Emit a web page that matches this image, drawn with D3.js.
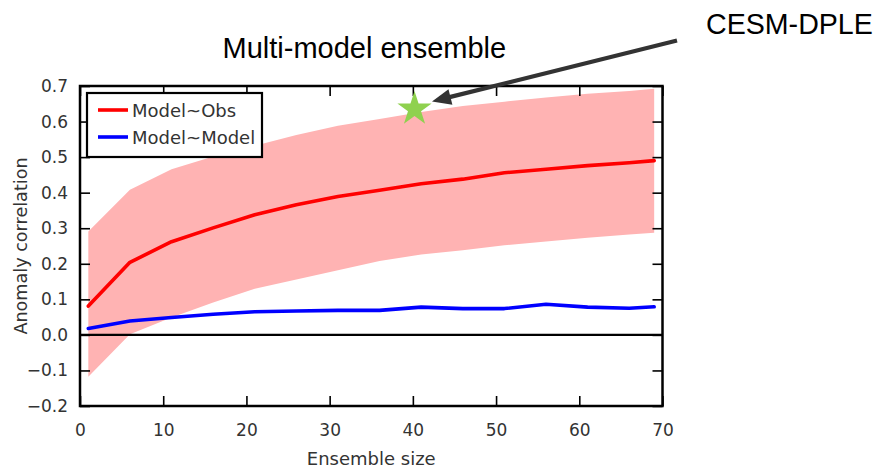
<!DOCTYPE html>
<html>
<head>
<meta charset="utf-8">
<script src="https://cdn.jsdelivr.net/npm/d3@7"></script>
<style>
  html, body { margin: 0; padding: 0; background: #fff; }
  svg { display: block; }
</style>
</head>
<body>
<svg id="chart" width="882" height="468"></svg>
<script>
// Ensemble sizes sampled along the x axis
const ensembleSizes = [1, 6, 11, 16, 21, 26, 31, 36, 41, 46, 51, 56, 61, 66, 69];
// Mean anomaly correlation, model vs observations
const modelObs = [0.081, 0.204, 0.262, 0.301, 0.338, 0.366, 0.389, 0.407, 0.425, 0.438, 0.456, 0.466, 0.476, 0.484, 0.490];
// Spread of the model-vs-observation correlation
const obsUpper = [0.291, 0.408, 0.466, 0.502, 0.532, 0.562, 0.588, 0.607, 0.627, 0.644, 0.656, 0.668, 0.678, 0.686, 0.692];
const obsLower = [-0.118, 0.002, 0.049, 0.091, 0.130, 0.156, 0.182, 0.208, 0.226, 0.238, 0.252, 0.263, 0.273, 0.282, 0.287];
// Mean anomaly correlation, model vs model
const modelModel = [0.018, 0.039, 0.049, 0.058, 0.065, 0.067, 0.069, 0.069, 0.078, 0.074, 0.074, 0.086, 0.078, 0.075, 0.079];
// CESM-DPLE point
const dpleSize = [40.2];
const dpleCorr = [0.635];
// Axis ticks
const xTicks = [0, 10, 20, 30, 40, 50, 60, 70];
const yTicks = [-0.2, -0.1, 0.0, 0.1, 0.2, 0.3, 0.4, 0.5, 0.6, 0.7];
const legendLabels = ["Model~Obs", "Model~Model"];

(function draw() {
  const svg = d3.select("#chart");
  const plotLeft = 80, plotRight = 662.5, plotTop = 86, plotBottom = 406;

  const x = d3.scaleLinear().domain([0, 70]).range([plotLeft, plotRight]);
  const y = d3.scaleLinear().domain([-0.2, 0.7]).range([plotBottom, plotTop]);

  const tickFont = "'DejaVu Sans', sans-serif";
  const textColor = "#333";

  const rows = ensembleSizes.map((s, i) => ({
    s, obs: modelObs[i], up: obsUpper[i], lo: obsLower[i], mm: modelModel[i]
  }));

  // Shaded spread band
  svg.append("path")
    .datum(rows)
    .attr("fill", "#ffb3b3")
    .attr("d", d3.area().x(d => x(d.s)).y0(d => y(d.lo)).y1(d => y(d.up)));

  // Zero reference line
  svg.append("line")
    .attr("x1", plotLeft).attr("x2", plotRight)
    .attr("y1", y(0)).attr("y2", y(0))
    .attr("stroke", "#000").attr("stroke-width", 2.2);

  // Correlation curves
  svg.append("path")
    .datum(rows)
    .attr("fill", "none").attr("stroke", "#ff0000").attr("stroke-width", 3.6)
    .attr("stroke-linejoin", "round").attr("stroke-linecap", "round")
    .attr("d", d3.line().x(d => x(d.s)).y(d => y(d.obs)));

  svg.append("path")
    .datum(rows)
    .attr("fill", "none").attr("stroke", "#0000ff").attr("stroke-width", 3.6)
    .attr("stroke-linejoin", "round").attr("stroke-linecap", "round")
    .attr("d", d3.line().x(d => x(d.s)).y(d => y(d.mm)));

  // Axes with inward ticks on all four sides
  const tickLen = 10;
  const axisBottom = d3.axisBottom(x).tickValues(xTicks).tickSizeInner(-tickLen).tickSizeOuter(0).tickPadding(tickLen + 8);
  const axisTop = d3.axisTop(x).tickValues(xTicks).tickSizeInner(-tickLen).tickSizeOuter(0).tickFormat("");
  const axisLeft = d3.axisLeft(y).tickValues(yTicks).tickSizeInner(-tickLen).tickSizeOuter(0).tickPadding(tickLen + 2).tickFormat(d3.format(".1f"));
  const axisRight = d3.axisRight(y).tickValues(yTicks).tickSizeInner(-tickLen).tickSizeOuter(0).tickFormat("");

  function styleAxis(g) {
    g.select(".domain").remove();
    g.selectAll(".tick line").attr("stroke", "#000").attr("stroke-width", 1.6);
    g.selectAll(".tick text").attr("fill", textColor).style("font-family", tickFont).style("font-size", "17px");
  }

  svg.append("g").attr("transform", `translate(0,${plotBottom})`).call(axisBottom).call(styleAxis);
  svg.append("g").attr("transform", `translate(0,${plotTop})`).call(axisTop).call(styleAxis);
  svg.append("g").attr("transform", `translate(${plotLeft},0)`).call(axisLeft).call(styleAxis);
  svg.append("g").attr("transform", `translate(${plotRight},0)`).call(axisRight).call(styleAxis);

  // Frame
  svg.append("rect")
    .attr("x", plotLeft).attr("y", plotTop)
    .attr("width", plotRight - plotLeft).attr("height", plotBottom - plotTop)
    .attr("fill", "none").attr("stroke", "#000").attr("stroke-width", 2.5);

  // Axis titles
  svg.append("text")
    .attr("x", (plotLeft + plotRight) / 2).attr("y", 465)
    .attr("text-anchor", "middle")
    .attr("fill", textColor)
    .style("font-family", tickFont).style("font-size", "18px")
    .text("Ensemble size");

  svg.append("text")
    .attr("transform", `translate(27,${(plotTop + plotBottom) / 2}) rotate(-90)`)
    .attr("text-anchor", "middle")
    .attr("fill", textColor)
    .style("font-family", tickFont).style("font-size", "17.6px")
    .text("Anomaly correlation");

  // Legend
  const legend = svg.append("g");
  legend.append("rect")
    .attr("x", 87).attr("y", 93).attr("width", 175).attr("height", 64)
    .attr("fill", "#fff").attr("stroke", "#000").attr("stroke-width", 2.2);
  const legendColors = ["#ff0000", "#0000ff"];
  legendLabels.forEach((lab, i) => {
    const ly = 110 + i * 27;
    legend.append("line")
      .attr("x1", 98).attr("x2", 128).attr("y1", ly).attr("y2", ly)
      .attr("stroke", legendColors[i]).attr("stroke-width", 3.6);
    legend.append("text")
      .attr("x", 132).attr("y", ly + 6.5)
      .attr("fill", textColor)
      .style("font-family", tickFont).style("font-size", "18px")
      .text(lab);
  });

  // CESM-DPLE star
  svg.append("path")
    .attr("transform", `translate(${x(dpleSize[0])},${y(dpleCorr[0])})`)
    .attr("fill", "#8fd14f")
    .attr("d", d3.symbol(d3.symbolStar, 364)());

  // Annotation arrow pointing at the star
  const tail = [677, 40.5];
  const tip = [432, 101.5];
  const ang = Math.atan2(tip[1] - tail[1], tip[0] - tail[0]);
  const headLen = 19, headHalf = 8;
  const base = [tip[0] - headLen * Math.cos(ang), tip[1] - headLen * Math.sin(ang)];
  svg.append("line")
    .attr("x1", tail[0]).attr("y1", tail[1])
    .attr("x2", base[0] + 2 * Math.cos(ang)).attr("y2", base[1] + 2 * Math.sin(ang))
    .attr("stroke", "#333").attr("stroke-width", 4.2);
  svg.append("path")
    .attr("fill", "#333")
    .attr("d", d3.line()([
      tip,
      [base[0] - headHalf * Math.sin(ang), base[1] + headHalf * Math.cos(ang)],
      [base[0] + headHalf * Math.sin(ang), base[1] - headHalf * Math.cos(ang)]
    ]) + "Z");

  // Annotation labels
  const annoFont = "'Liberation Sans', Arial, sans-serif";
  svg.append("text")
    .attr("x", 222.5).attr("y", 58)
    .attr("fill", "#000")
    .style("font-family", annoFont).style("font-size", "29px")
    .text("Multi-model ensemble");
  svg.append("text")
    .attr("x", 706).attr("y", 33.5)
    .attr("fill", "#000")
    .style("font-family", annoFont).style("font-size", "28.6px")
    .text("CESM-DPLE");
})();
</script>
</body>
</html>
